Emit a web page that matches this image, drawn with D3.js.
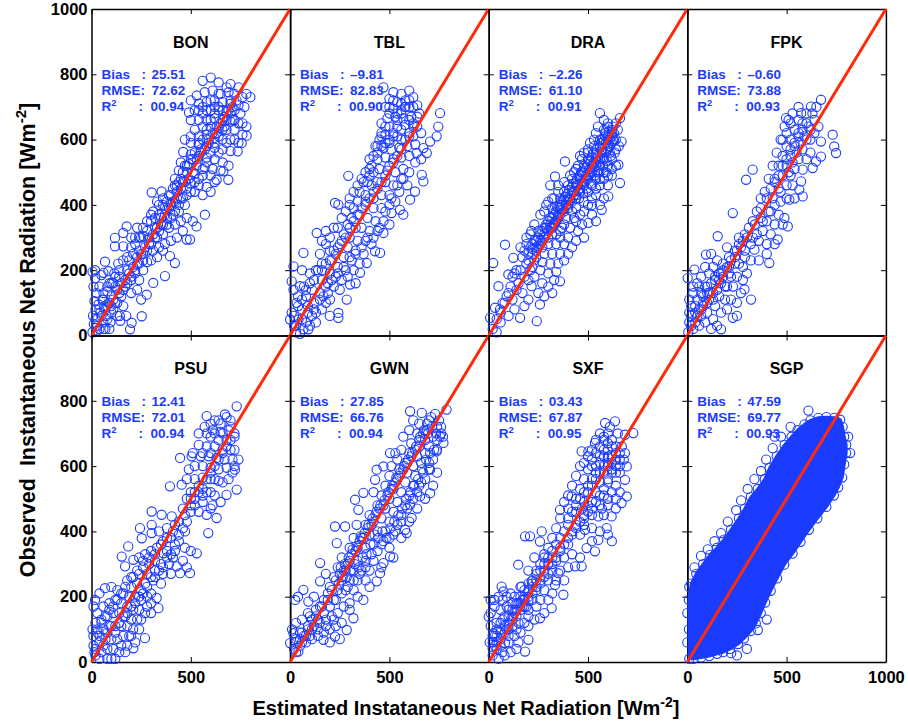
<!DOCTYPE html>
<html>
<head>
<meta charset="utf-8">
<script src="https://cdn.jsdelivr.net/npm/d3@7"></script>
<style>
body { margin: 0; background: #fff; }
svg { display: block; font-family: "Liberation Sans", Arial, Helvetica, sans-serif; font-weight: bold; }
</style>
</head>
<body>
<svg id="chart"></svg>
<script>

/* Stations and statistics */
var stations = ["BON", "TBL", "DRA", "FPK", "PSU", "GWN", "SXF", "SGP"]
var biasVals = ["25.51", "\u20139.81", "\u20132.26", "\u20130.60", "12.41", "27.85", "03.43", "47.59"]
var rmseVals = ["72.62", "82.83", "61.10", "73.88", "72.01", "66.76", "67.87", "69.77"]
var r2Vals = ["00.94", "00.90", "00.91", "00.93", "00.94", "00.94", "00.95", "00.93"]

/* Ticks */
var xTicks = [0, 500, 1000]
var yTicks = [0, 200, 400, 600, 800, 1000]

/* Points: [estimated, observed] */
var bonPts = [
[560,780],[600,790],[640,775],[700,770],[740,760],[780,740],[800,730],[690,745],[650,740],[610,750],[570,745],[530,735],[500,720],[540,710],[580,715],[620,720],[660,715],[700,710],[740,705],[770,700],[720,690],[680,685],[640,690],[600,690],[560,680],[520,690],[491,683],[540,660],[580,660],[620,665],[660,660],[700,655],[740,650],[780,640],[760,615],[720,630],[680,630],[640,635],[600,640],[560,640],[520,630],[500,610],[540,610],[580,615],[620,605],[660,600],[700,600],[740,590],[756,589],[781,612],[736,564],[700,565],[660,570],[620,575],[580,580],[540,585],[500,590],[470,600],[462,562],[500,555],[540,550],[580,545],[620,540],[660,530],[690,520],[650,505],[610,510],[570,515],[530,520],[490,525],[450,530],[689,477],[664,503],[630,477],[600,490],[560,490],[520,495],[480,500],[440,505],[420,480],[460,470],[500,465],[540,460],[580,455],[600,440],
[303,438],[353,441],[311,380],[330,410],[360,420],[390,430],[410,450],[430,440],[400,400],[370,390],[340,370],[420,410],[450,420],[470,400],[440,380],[410,370],[380,360],[350,340],[320,330],[300,350],[280,320],[330,300],[360,310],[390,330],[420,340],[450,350],[480,360],[510,350],[529,334],[571,370],[479,294],[496,294],[460,320],[430,300],[400,290],[370,280],[340,270],[310,260],[290,280],[260,250],[300,230],[330,240],[395,243],[420,222],[370,182],[360,260],[250,300],[230,330],[261,304],[177,334],[160,314],[118,299],[118,273],[160,273],[200,300],[220,280],[240,260],[280,225],[260,200],[230,220],[210,250],[190,230],[311,161],[278,125],[253,59],[202,39],[194,19],[240,170],[220,190],[200,170],[180,200],[170,150],[200,130],[230,140],[250,110],[150,120],[140,180],
[5,10],[12,35],[8,60],[20,80],[15,105],[30,50],[40,20],[25,130],[10,150],[35,95],[45,70],[55,110],[60,40],[18,175],[40,150],[50,185],[65,90],[70,20],[28,15],[75,60],[80,135],[85,100],[90,160],[95,40],[100,120],[110,80],[115,190],[120,150],[130,100],[135,220],[145,45],[68,226],[18,200],[5,195],[143,60],[100,70],[60,130],[130,60],[90,20],[110,160],[160,90],[175,60],[60,192],[85,197],
[30,30],[50,60],[70,80],[90,100],[110,110],[130,140],[150,160],[170,170],[190,190],[210,210],[230,240],[250,250],[270,270],[290,300],[310,310],[330,330],[350,360],[370,370],[390,390],[410,410],[430,420],[450,450],[470,470],[490,480],[510,500],[530,540],[550,560],[570,570],[590,600],[610,620],[630,640],[650,650],[670,670],[690,690],[710,700],[730,720],[60,20],[80,50],[100,90],[120,100],[140,130],[160,140],[180,160],[200,180],[220,200],[240,220],[260,230],[280,260],[300,280],[320,300],[340,320],[360,340],[380,340],[400,360],[420,380],[440,400],[460,420],[480,430],[500,440],[520,470],[540,480],[560,510],[580,530],[600,560],[620,590],[640,610],[660,630],[680,660],[700,680],[720,660],[20,50],[40,80],[60,110],[80,150],[100,160],[120,180],[140,200],[160,230],[180,240],[200,270],[220,300],[240,300],[260,330],[280,350],[300,370],[320,360],[340,400],[360,400],[380,410],[400,430],[420,460],[440,470],[460,500],[480,520],[500,540],[520,560],[540,590],[560,600],[580,630],[600,660],[620,680],[640,700],
[560,700],[600,720],[640,740],[680,760],[720,740],[760,730],[750,680],[710,660],[670,640],[630,620],[590,590],[550,570],[510,540],[470,520],[450,480],[430,460],[480,450],[520,440],[560,430],[620,470],[640,560],[680,590],[720,600],[760,650],[700,720],[660,690],[620,700],[580,690],[540,690],[500,660]
]

var tblPts = [
[470,760],[520,745],[560,740],[600,750],[620,730],[580,720],[540,715],[500,725],[480,700],[520,695],[560,690],[600,700],[640,705],[650,680],[610,670],[570,665],[530,670],[490,665],[460,650],[500,640],[540,640],[580,645],[620,640],[755,681],[746,640],[738,610],[705,594],[671,574],[637,559],[688,559],[660,620],[600,610],[560,600],[520,610],[480,615],[450,600],[430,580],[470,575],[510,570],[550,575],[590,580],[630,585],[600,550],[560,545],[520,540],[480,545],[440,540],[410,520],[450,510],[490,505],[530,500],[570,510],[663,492],[671,472],[629,441],[604,416],[570,370],[553,385],[511,375],[470,314],[428,258],[453,253],[386,222],[352,192],[302,156],[243,69],[243,54],[285,110],[201,110],[168,120],
[400,490],[370,470],[410,460],[440,470],[480,470],[520,460],[550,440],[500,430],[460,430],[420,420],[380,430],[350,440],[340,410],[380,400],[420,390],[460,390],[500,400],[530,410],[590,460],[560,480],[293,489],[226,406],[243,401],[300,420],[320,390],[310,360],[350,370],[390,360],[430,350],[470,350],[500,340],[440,320],[400,320],[360,330],[330,330],[290,340],[270,310],[300,300],[340,290],[380,290],[410,280],[370,250],[330,260],[290,270],[250,280],[230,250],[270,240],[310,230],[350,220],[320,200],[280,200],[240,210],[210,230],[200,190],[230,180],[260,170],[290,180],[330,160],[250,140],[220,150],[190,160],[160,170],[134,314],[180,280],[150,250],[200,260],
[67,253],[17,212],[8,166],[17,140],[50,151],[33,100],[8,70],[0,49],[42,49],[67,19],[92,19],[100,30],[60,80],[90,90],[120,100],[130,70],[150,130],[110,140],[80,120],[40,120],[20,30],[130,40],[160,80],[180,100],[200,60],[110,60],[70,150],[100,190],[130,200],[160,220],[190,130],[60,200],[30,10],[50,5],[80,40],
[20,60],[40,90],[60,110],[80,140],[100,160],[120,170],[140,200],[160,200],[180,220],[200,230],[220,260],[240,270],[260,290],[280,300],[300,330],[320,350],[340,370],[360,390],[380,410],[400,420],[420,440],[440,450],[460,470],[480,490],[500,520],[520,530],[540,550],[560,570],[580,600],[600,620],[620,650],[640,670],[30,30],[60,50],[90,70],[120,80],[150,110],[180,150],[210,170],[240,190],[270,210],[300,240],[330,250],[360,270],[390,300],[420,300],[450,330],[480,380],[510,420],[540,460],[570,480],[600,500],[630,530],[660,540],[440,560],[460,580],[480,590],[500,600],[520,620],[540,660],[560,680],[580,700],[500,700],[460,620],[400,540],[380,500],[360,480],[340,460],[320,440],[300,400],[280,380],[260,360],[240,330],[220,330],[200,300],[180,320],[160,290],
[520,720],[560,710],[600,720],[620,700],[580,700],[540,680],[500,680],[480,640],[460,610],[500,590],[540,610],[560,630],[600,660],[620,610],[640,640],[440,580],[420,550],[400,510],[390,470],[420,500]
]

var draPts = [
[560,681],[661,666],[669,594],[653,523],[661,467],[602,426],[569,385],[600,640],[620,630],[580,630],[550,640],[540,620],[600,610],[570,600],[530,600],[510,590],[560,580],[600,580],[630,600],[640,570],[610,560],[570,560],[530,560],[500,570],[480,560],[460,550],[500,540],[540,540],[580,540],[620,540],[640,520],[600,520],[560,520],[520,520],[480,520],[450,520],[430,500],[470,500],[510,500],[550,500],[590,500],[620,490],[580,480],[540,480],[500,480],[460,480],[420,480],[400,460],[440,460],[480,460],[520,460],[560,460],[600,460],[384,533],[334,487],[310,460],[350,460],[380,440],[420,440],[460,440],[500,440],[540,430],[580,420],[560,400],[520,400],[480,410],[440,420],[400,420],[360,420],[330,420],[300,410],[320,390],[360,390],[400,390],[440,390],[480,380],[520,370],[540,350],[502,345],[470,340],[430,360],[390,360],[350,360],[310,360],[280,380],[290,340],[330,340],[370,330],[410,330],[450,320],[480,300],[440,290],[400,300],[360,300],[320,310],[280,310],[250,320],[260,290],[300,280],[340,280],[380,280],[420,270],[400,250],[360,250],[320,250],[280,250],[240,260],[220,280],[200,250],[230,230],[270,225],[310,220],[350,220],[380,230],[340,195],[300,190],[260,200],[220,210],[190,220],[170,240],[160,270],[190,300],[215,320],
[82,278],[23,222],[124,238],[99,187],[49,151],[32,85],[7,54],[57,80],[158,54],[242,44],[258,95],[200,110],[216,151],[359,166],[330,170],[300,150],[270,160],[250,130],[230,180],[280,120],[200,170],[170,130],[140,140],[120,110],[90,120],[70,100],[100,60],[130,80],[60,40],[20,20],[40,10],[180,90],[160,200],[130,190],[320,130],
[200,230],[220,250],[240,270],[260,280],[280,300],[300,320],[320,330],[340,350],[360,370],[380,380],[400,400],[420,410],[440,430],[460,450],[480,470],[500,490],[520,500],[540,520],[560,540],[580,560],[600,570],[620,590],[640,600],[620,620],[590,620],[560,600],[530,580],[500,560],[470,540],[440,510],[410,490],[380,470],[350,440],[320,420],[290,400],[260,370],[230,340],[210,310],[190,280],[180,260],[210,270],[230,290],[250,300],[270,320],[290,330],[310,340],[330,370],[350,390],[370,400],[390,410],[410,420],[430,440],[450,460],[470,470],[490,490],[510,510],[530,530],[550,550],[570,570],[590,590],[610,600],[630,620],[650,630],[600,650],[580,660],[640,650],[440,350],[460,370],[500,400],[520,420],[540,450],[560,480],[580,500],[600,490],[620,510],[420,380],[380,340],[360,320],[340,310],[300,300],[270,270],[240,240],[210,200],[180,180],[150,160],[140,200],[120,180],[110,150],[100,130],[80,100],[60,70],[40,50],
[310,330],[330,345],[350,365],[370,385],[390,400],[410,415],[430,430],[450,445],[470,465],[490,480],[510,495],[530,515],[550,530],[570,545],[590,565],[610,580],[630,595],[320,360],[340,380],[360,400],[380,415],[400,435],[420,455],[440,470],[460,490],[480,505],[500,525],[520,545],[540,560],[560,575],[580,595],[600,600],[620,610],[300,350],[325,375],[345,395],[365,410],[385,425],[405,445],[425,465],[445,480],[465,500],[485,515],[505,535],[525,555],[545,570],[565,590],[585,610],[605,625],[625,640],[280,330],[260,310],[240,290],[220,265],[250,275],[270,290],[455,420],[475,435],[495,450],[515,465],[535,490],[555,505],[575,520],[595,535],[615,550],[635,560],[655,580]
]

var fpkPts = [
[673,722],[623,701],[573,681],[497,666],[732,615],[673,594],[740,579],[749,559],[673,548],[648,533],[631,513],[581,508],[573,472],[564,447],[581,426],[514,416],[489,360],[506,334],[455,294],[413,222],[338,263],[329,508],[296,477],[229,375],[153,304],[94,248],[36,202],[2,176],[288,141],[321,110],[229,54],[170,19],
[600,680],[560,660],[520,650],[600,650],[640,660],[620,630],[580,630],[540,630],[500,620],[560,610],[600,600],[520,600],[480,600],[500,580],[540,580],[580,570],[620,560],[600,540],[560,540],[520,550],[480,550],[460,520],[500,520],[540,510],[520,490],[480,490],[440,480],[460,450],[500,460],[530,460],[540,420],[500,420],[470,410],[440,400],[420,380],[460,370],[480,340],[440,340],[400,350],[380,320],[420,310],[440,280],[400,280],[360,290],[330,300],[370,360],[400,250],[360,230],[320,230],[290,260],[260,300],[250,260],[280,210],[240,220],[210,240],[200,270],[180,220],[150,230],[120,250],[130,210],[170,190],[210,190],[250,180],[280,170],[230,150],[200,150],[170,160],[140,170],[110,190],[90,210],[70,180],[60,150],[100,150],[130,130],[160,120],[190,110],[220,110],[250,100],[200,80],[170,70],[140,90],[110,110],[80,120],[50,110],[30,130],[20,90],[40,70],[70,80],[100,70],[130,50],[90,40],[60,30],[30,20],[10,40],[5,10],[120,20],[150,30],[250,60],[270,130],[300,190],
[20,30],[40,40],[50,60],[70,60],[80,90],[100,100],[110,130],[130,110],[150,140],[160,170],[180,180],[190,150],[210,210],[220,180],[240,240],[260,220],[270,270],[290,240],[300,300],[320,280],[340,340],[350,310],[370,390],[380,350],[400,420],[410,380],[420,450],[430,420],[440,470],[460,490],[470,440],[480,520],[500,540],[510,500],[520,570],[530,530],[540,590],[550,560],[560,620],[570,590],[580,650],[590,610],[610,640],[620,600],[630,680],[640,620],[650,700],[660,640],[560,700],[530,680],[510,660],[490,640],[470,600],[450,560],[430,520],[410,480],[390,440],[370,420],[350,380],[330,350],[310,330],[290,310],[280,290],[260,280],[240,260],[220,230],[200,210],[180,200],[160,190],[140,180],[120,160],[100,130],[80,100],[60,80],[40,90],[20,60],[10,70],[10,110],[30,150],[50,160],[70,130],[90,150]
]

var psuPts = [
[731,783],[580,753],[672,758],[620,740],[650,730],[700,740],[690,710],[650,705],[610,710],[570,720],[540,700],[600,690],[640,680],[680,680],[720,690],[700,650],[660,650],[620,660],[580,660],[540,665],[510,640],[550,630],[590,630],[630,625],[670,620],[710,620],[446,625],[504,630],[720,600],[680,595],[640,590],[600,595],[560,600],[520,600],[490,590],[480,560],[520,560],[560,565],[600,560],[640,555],[722,589],[395,538],[454,543],[731,528],[630,441],[680,512],[580,451],[500,520],[540,520],[580,520],[620,510],[650,490],[610,480],[560,490],[520,480],[480,500],[460,470],[500,460],[540,460],[600,470],
[303,461],[353,451],[404,446],[244,410],[303,420],[253,379],[303,395],[185,354],[152,323],[211,313],[169,293],[471,400],[530,333],[588,395],[496,272],[429,293],[362,333],[446,272],[420,420],[380,410],[340,400],[360,370],[400,380],[440,370],[470,350],[500,340],[420,340],[380,340],[330,350],[300,340],[270,330],[240,320],[260,290],[290,300],[320,310],[350,300],[390,300],[410,320],[460,310],[480,290],[400,270],[360,270],[320,280],[280,270],[240,270],[210,260],[230,240],[270,240],[310,250],[350,240],[200,230],[180,250],[250,220],
[68,226],[18,190],[269,73],[211,42],[337,165],[328,196],[300,180],[280,200],[250,190],[220,200],[190,200],[160,210],[130,220],[100,230],[40,210],[10,170],[30,150],[60,170],[90,180],[120,190],[150,180],[180,170],[210,160],[240,160],[270,150],[300,150],[230,130],[200,130],[170,140],[140,150],[110,150],[80,140],[50,130],[20,120],[5,100],[30,90],[60,100],[90,110],[120,110],[150,110],[180,110],[210,100],[240,100],[190,80],[160,80],[130,70],[100,70],[70,70],[40,60],[10,50],[20,20],[50,30],[80,40],[110,40],[150,50],[170,30],[120,10],[80,10],[220,60],
[20,40],[40,80],[60,50],[80,90],[100,110],[120,90],[140,120],[160,140],[180,150],[200,170],[220,180],[240,200],[260,210],[280,230],[300,260],[320,260],[340,280],[360,290],[380,320],[400,330],[420,360],[440,390],[460,410],[480,430],[500,480],[520,500],[540,540],[560,530],[580,560],[600,580],[620,600],[640,620],[660,640],[680,660],[700,680],[720,700],[600,640],[620,700],[580,700],[560,640],[660,700],[700,720],[640,740],[600,730],[680,750],[720,650],[740,620],[710,580],[690,560],[660,550],[620,560],[600,520],[560,510],[520,520],[500,500],[470,450],[440,430],[410,400],[380,380],[350,360],[320,330],[290,320],[260,310],[230,280],[200,260],[170,230],[150,210],[130,190],[110,170],[90,160],[70,140],[50,120],[30,100],[10,80],[15,30],[40,10],[100,10],[140,30],[180,50],[200,80],[250,130],[280,170],[300,210]
]

var gwnPts = [
[604,768],[663,763],[788,773],[772,671],[738,645],[705,589],[705,517],[654,507],[604,482],[612,441],[436,589],[470,599],[503,640],[530,640],[428,558],[700,740],[650,730],[620,740],[690,710],[740,720],[760,700],[720,690],[680,680],[640,700],[600,710],[570,690],[610,670],[650,660],[700,660],[740,680],[680,640],[640,630],[600,640],[560,650],[540,620],[580,610],[620,600],[660,610],[700,610],[670,580],[630,570],[590,580],[550,590],[510,600],[500,570],[540,560],[580,550],[620,540],[660,550],[640,520],[600,510],[560,520],[520,530],[480,540],[460,510],[500,500],[540,490],[580,480],[560,450],[520,460],[480,470],[440,480],[420,520],[587,395],[579,405],
[369,518],[344,466],[327,497],[226,415],[277,415],[335,420],[235,364],[400,450],[380,420],[420,430],[460,440],[500,430],[540,420],[520,390],[480,400],[440,400],[400,390],[360,380],[320,380],[300,350],[340,350],[380,350],[420,360],[460,360],[500,350],[503,323],[453,272],[470,303],[436,247],[420,310],[380,310],[340,310],[300,310],[260,320],[240,290],[280,280],[320,280],[360,280],[400,280],[380,250],[340,250],[300,250],[260,250],[220,260],[200,230],[240,220],[280,220],[320,220],[369,190],[319,134],[285,98],[226,78],[168,68],[151,303],[151,247],[180,270],
[67,221],[25,190],[40,200],[92,185],[17,88],[0,58],[42,32],[30,70],[60,90],[90,100],[120,110],[150,120],[180,130],[210,140],[240,150],[270,170],[300,180],[260,120],[230,110],[200,100],[170,90],[140,80],[110,70],[80,60],[50,50],[20,40],[60,130],[100,140],[130,160],[160,170],[190,190],[220,190],[120,200],[90,150],[30,120],[10,100],[200,60],[250,70],
[30,30],[50,70],[70,80],[90,110],[110,130],[130,140],[150,170],[170,190],[190,210],[210,220],[230,250],[250,270],[270,280],[290,300],[310,330],[330,340],[350,370],[370,380],[390,410],[410,420],[430,450],[450,470],[470,480],[490,510],[510,530],[530,550],[550,570],[570,590],[590,610],[610,630],[630,650],[650,680],[670,700],[690,730],[710,750],[730,760],[750,740],[760,720],[770,690],[740,650],[720,620],[700,590],[680,560],[650,540],[620,500],[590,470],[560,430],[530,400],[500,380],[470,370],[440,340],[410,330],[380,290],[350,270],[320,250],[290,230],[260,210],[230,190],[200,170],[170,150],[140,130],[110,100],[80,80],[50,90],[30,60],[60,60],[100,80],[140,100],[180,110],[220,130],[300,160],[340,200],[400,230],[460,290],[520,320],[560,380],[600,430],[640,470],[680,500],[720,540],[740,580],
[255,290],[275,300],[295,320],[315,345],[335,355],[355,385],[375,395],[395,420],[415,440],[435,460],[455,480],[475,495],[495,520],[515,540],[535,565],[555,580],[575,600],[595,620],[615,640],[635,660],[655,690],[675,710],[695,700],[715,720],[735,700],[755,690],[725,650],[705,640],[685,620],[665,590],[645,560],[625,540],[605,520],[585,500],[565,470],[545,450],[525,430],[505,410],[485,380],[465,400],[445,380],[425,390],[405,360],[385,330],[365,320],[345,290],[325,300],[305,280],[285,260],[265,260],[245,240]
]

var sxfPts = [
[586,732],[636,737],[728,701],[686,696],[468,645],[502,645],[535,671],[686,640],[695,599],[686,558],[695,507],[669,487],[619,446],[552,446],[594,410],[485,405],[359,466],[418,507],[600,700],[620,680],[580,680],[560,660],[600,650],[640,660],[660,640],[620,630],[580,630],[540,640],[520,620],[560,610],[600,610],[640,600],[660,580],[620,580],[580,580],[540,580],[500,590],[480,560],[520,560],[560,550],[600,550],[640,540],[620,520],[580,510],[540,520],[500,520],[460,530],[440,500],[480,490],[520,490],[560,480],[600,480],[640,470],[580,450],[520,450],[480,450],[440,460],[400,470],[400,440],[440,420],[480,420],[520,410],[560,400],[600,390],[620,370],[520,370],[460,390],[420,400],
[267,400],[183,385],[208,385],[258,369],[149,298],[376,206],[334,236],[351,272],[435,293],[468,293],[552,374],[535,339],[493,349],[400,360],[360,350],[320,340],[280,330],[300,300],[340,310],[380,320],[420,330],[460,320],[400,290],[360,280],[320,280],[280,280],[240,280],[260,250],[300,250],[340,250],[380,250],[220,250],[200,220],[240,220],[280,220],[320,210],[300,190],[260,190],[220,190],[180,200],[160,230],[200,280],[230,320],
[65,231],[74,216],[166,231],[216,247],[317,165],[258,134],[200,68],[183,32],[0,139],[23,88],[82,58],[120,180],[90,170],[60,160],[30,170],[10,190],[130,150],[100,140],[70,130],[40,120],[10,110],[150,120],[120,110],[90,100],[60,90],[30,80],[5,60],[40,40],[70,30],[100,60],[130,80],[160,90],[200,110],[230,130],[280,150],[240,170],[200,160],[170,170],[20,20],[50,10],[140,40],
[20,40],[40,60],[60,70],[80,90],[100,100],[120,130],[140,140],[160,160],[180,170],[200,190],[220,210],[240,230],[260,240],[280,260],[300,270],[320,300],[340,320],[360,340],[380,360],[400,380],[420,390],[440,410],[460,430],[480,440],[500,460],[520,470],[540,490],[560,510],[580,530],[600,560],[620,590],[640,620],[660,620],[640,640],[620,660],[600,670],[580,690],[560,700],[540,680],[520,650],[500,630],[480,610],[460,600],[440,570],[420,540],[400,510],[380,490],[360,440],[340,410],[320,380],[300,350],[280,320],[260,300],[240,270],[220,240],[200,240],[180,220],[160,200],[140,180],[120,160],[100,160],[80,140],[60,120],[40,100],[20,80],[10,150],[30,190],[50,200],[70,190],[90,200],[110,210],[130,200],[150,180],[170,190],[190,170],[200,140],[180,120],[140,100],[100,80],[60,50],[30,50],[80,20],[110,30],[150,60],
[520,600],[540,600],[560,630],[580,650],[600,630],[620,610],[640,580],[660,600],[600,600],[580,600],[560,580],[540,560],[520,540],[500,540],[480,520],[460,500],[440,480],[420,460],[400,420],[380,400],[360,380],[340,360],[320,320],[300,320],[280,300],[260,280],[240,250],[220,230],[200,200],[180,190],[160,180],[140,160],[120,140],[100,120],[80,110],[60,100],[40,80],[20,60],[610,720],[650,700],[670,660],[680,620],[660,520],[640,500],[600,500],[570,470],[500,480],[470,470]
]

/* SGP: outline of the saturated cloud (circle centres), plus outlying circles */
var sgpHull = [
[10,10],[8,100],[8,190],[20,240],[45,270],[80,300],[115,328],[150,350],[185,375],[220,405],[260,440],[290,470],[320,505],[355,530],[390,560],[415,595],[450,630],[490,665],[525,690],[555,710],[590,728],[620,740],[660,748],[700,750],[740,748],[770,742],[782,720],[790,690],[800,665],[800,640],[790,605],[780,565],[760,535],[738,510],[700,475],[655,440],[612,405],[570,368],[530,332],[488,298],[452,256],[420,218],[392,182],[370,150],[345,118],[320,95],[285,72],[255,55],[215,40],[180,30],[150,25],[110,18],[70,14],[30,10]
]
var sgpEdge = [
[472,690],[430,655],[397,620],[371,585],[338,560],[304,530],[271,495],[246,465],[204,430],[170,395],[137,370],[103,345],[69,325],[36,290],[440,690],[520,720],[610,770],[810,690],[820,640],[355,98],[221,27],[250,20],[400,130],[300,40],[0,60],[0,150],[10,230]
]

var panelPts = [bonPts, tblPts, draPts, fpkPts, psuPts, gwnPts, sxfPts, []]

var width = 908
var height = 723
var plotLeft = 91.5
var plotTop = 9
var panelW = 198.6
var panelH = 326.5
var blue = "#1b3bff"
var red = "#ff2a0a"

/* SVG */
var svg = d3.select("#chart")
    .attr("width", width)
    .attr("height", height)

svg.append("rect").attr("width", width).attr("height", height).attr("fill", "#fff")

function styleAxis(sel) {
    sel.attr("font-family", null).attr("font-size", null)
    sel.select(".domain").attr("stroke", "#000").attr("stroke-width", 1.5)
    sel.selectAll(".tick line").attr("stroke", "#000").attr("stroke-width", 1)
    sel.selectAll(".tick text").attr("fill", "#000").style("font-size", "16.5px")
}

stations.forEach(function (name, i) {
    var col = i % 4
    var row = Math.floor(i / 4)
    var x0 = plotLeft + col * panelW
    var y0 = plotTop + row * panelH

    /* Scales */
    var x = d3.scaleLinear().domain([0, 1000]).range([x0, x0 + panelW])
    var y = d3.scaleLinear().domain([0, 1000]).range([y0 + panelH, y0])

    var g = svg.append("g")

    /* Axes, ticks pointing inward */
    g.append("g")
        .attr("transform", "translate(0," + (y0 + panelH) + ")")
        .call(d3.axisBottom(x).tickValues(xTicks).tickSizeInner(-5).tickSizeOuter(0).tickPadding(9)
            .tickFormat(function (d) { return row === 1 && (d < 1000 || col === 3) ? d : "" }))
        .call(styleAxis)

    g.append("g")
        .attr("transform", "translate(0," + y0 + ")")
        .call(d3.axisTop(x).tickValues(xTicks).tickSizeInner(-5).tickSizeOuter(0).tickFormat(""))
        .call(styleAxis)

    g.append("g")
        .attr("transform", "translate(" + x0 + ",0)")
        .call(d3.axisLeft(y).tickValues(yTicks).tickSizeInner(-5).tickSizeOuter(0).tickPadding(4)
            .tickFormat(function (d) { return col === 0 && !(row === 1 && d === 1000) ? d : "" }))
        .call(styleAxis)

    g.append("g")
        .attr("transform", "translate(" + (x0 + panelW) + ",0)")
        .call(d3.axisRight(y).tickValues(yTicks).tickSizeInner(-5).tickSizeOuter(0).tickFormat(""))
        .call(styleAxis)

    /* SGP dense cloud */
    if (name === "SGP") {
        g.append("path")
            .datum(sgpHull)
            .attr("d", d3.line().x(function (d) { return x(d[0]) }).y(function (d) { return y(d[1]) }).curve(d3.curveLinearClosed))
            .attr("fill", blue)
            .attr("stroke", blue)
            .attr("stroke-width", 3)
            .attr("stroke-linejoin", "round")
        panelPts[i] = sgpHull.concat(sgpEdge)
    }

    /* Points */
    g.append("g")
        .selectAll("circle")
        .data(panelPts[i])
        .enter()
            .append("circle")
                .attr("cx", function (d) { return x(d[0]) })
                .attr("cy", function (d) { return y(d[1]) })
                .attr("r", 4.6)
                .attr("fill", "none")
                .attr("stroke", blue)
                .attr("stroke-width", 1.1)

    /* 1:1 line */
    g.append("line")
        .attr("x1", x(0)).attr("y1", y(0))
        .attr("x2", x(1000)).attr("y2", y(1000))
        .attr("stroke", red)
        .attr("stroke-width", 3)

    /* Station name */
    g.append("text")
        .attr("x", x0 + panelW / 2)
        .attr("y", y0 + 38.5)
        .attr("text-anchor", "middle")
        .attr("font-size", 16)
        .attr("fill", "#000")
        .text(name)

    /* Statistics */
    var stats = g.append("g").attr("fill", blue).attr("font-size", 13.5)

    stats.append("text").attr("x", x0 + 10).attr("y", y0 + 70).text("Bias")
    stats.append("text").attr("x", x0 + 50).attr("y", y0 + 70).text(":")
    stats.append("text").attr("x", x0 + 60).attr("y", y0 + 70).text(biasVals[i])

    stats.append("text").attr("x", x0 + 10).attr("y", y0 + 86).text("RMSE:")
    stats.append("text").attr("x", x0 + 60).attr("y", y0 + 86).text(rmseVals[i])

    var r2 = stats.append("text").attr("x", x0 + 10).attr("y", y0 + 102)
    r2.append("tspan").text("R")
    r2.append("tspan").attr("dy", -5).attr("font-size", 9.5).text("2")
    stats.append("text").attr("x", x0 + 47).attr("y", y0 + 102).text(":")
    stats.append("text").attr("x", x0 + 59).attr("y", y0 + 102).text(r2Vals[i])
})

/* Axis titles */
var xTitle = svg.append("text")
    .attr("x", 466)
    .attr("y", 715)
    .attr("text-anchor", "middle")
    .attr("font-size", 20)
    .attr("fill", "#000")
xTitle.append("tspan").text("Estimated Instataneous Net Radiation [Wm")
xTitle.append("tspan").attr("dy", -8).attr("font-size", 14).text("-2")
xTitle.append("tspan").attr("dy", 8).text("]")

var yTitle = svg.append("text")
    .attr("transform", "translate(35,340) rotate(-90)")
    .attr("text-anchor", "middle")
    .attr("font-size", 21.5)
    .attr("fill", "#000")
    .attr("xml:space", "preserve")
yTitle.append("tspan").text("Observed  Instantaneous Net Radiation [Wm")
yTitle.append("tspan").attr("dy", -9).attr("font-size", 15).text("-2")
yTitle.append("tspan").attr("dy", 9).text("]")

</script>
</body>
</html>
